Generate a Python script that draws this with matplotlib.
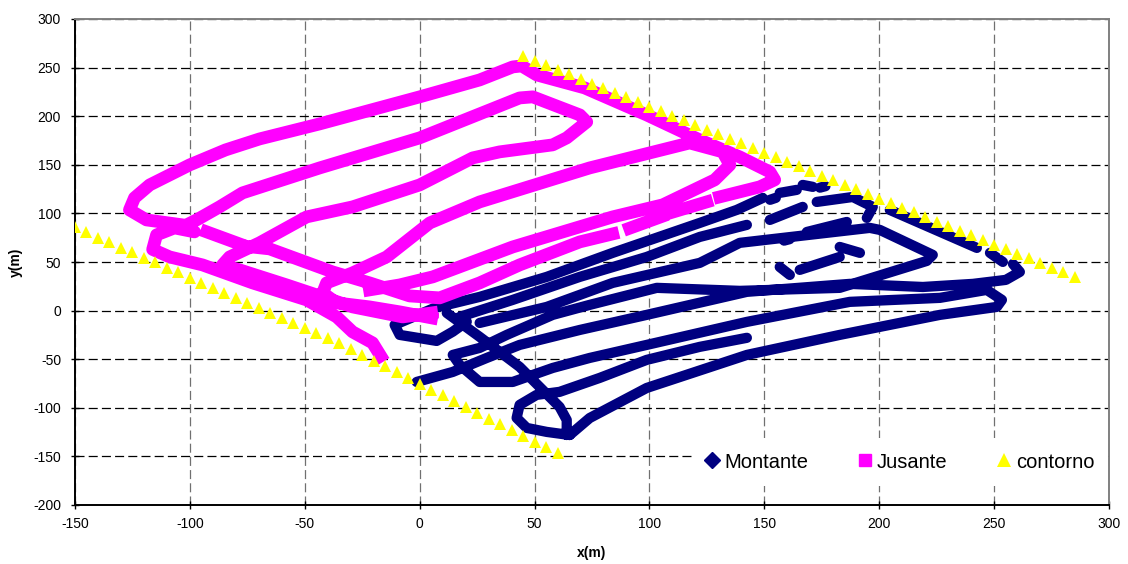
import numpy as np
import matplotlib
matplotlib.use("Agg")
import matplotlib.pyplot as plt
from matplotlib.lines import Line2D

plt.rcParams['font.family'] = ['Liberation Sans', 'DejaVu Sans']
plt.rcParams['lines.scale_dashes'] = False
plt.rcParams['axes.unicode_minus'] = False

nan = np.nan

# Montante track (segments separated by nan)
montante_x = [20.5, 14.4, 7.4, -8.7, -10.9, 6.5, 26.1, 55.3, 84.0, 121.9, 138.0, 149.3, nan,
              152.5, 155.0, nan, 156.7, 164.1, nan, 166.7, 171.1, nan, 174.2, 176.6, nan,
              172.8, 188.5, 197.2, 194.6, nan,
              17.4, 40.5, 69.7, 98.8, 121.9, 142.4, nan,
              152.4, 166.7, nan, 168.5, 185.9, nan, 158.6, 161.0, nan, 165.4, 182.8, nan,
              182.8, 191.6, nan, 156.7, 161.1, nan,
              26.1, 55.3, 84.0, 121.9, 139.3, 195.9, 200.3, 223.3, 220.7, 182.8, 139.3, 103.2,
              74.0, 57.9, 37.9, 26.1, 14.4, 17.4, 26.1, 40.5, 57.9, 74.0, 98.8, 142.4, 187.2,
              226.4, 246.8, 253.4, 251.2, 226.4, 182.8, 142.4, 98.8, 74.0, 65.3, nan,
              -1.3, 14.4, 29.2, 43.5, 69.7, 98.8, 142.4, 187.2, 219.0, 240.8, 255.1, 261.2, 258.2, nan,
              253.8, 248.2, nan, 242.5, 204.6, nan,
              11.8, 26.1, 43.5, 52.2, 60.9, 64.0, 64.0, nan,
              65.3, 55.3, 46.6, 42.2, 43.5, 50.9, 60.9, 78.4, 98.8, 121.9, 142.4]
montante_y = [-11.4, -21.7, -31.2, -25.0, -14.7, 2.8, 14.1, 34.7, 59.4, 90.2, 103.6, 115.9, nan,
              114.0, 116.0, nan, 121.1, 124.2, nan, 129.3, 127.3, nan, 126.5, 128.0, nan,
              111.8, 116.9, 106.7, 95.4, nan,
              -6.5, 11.0, 34.7, 55.2, 75.8, 88.2, nan,
              93.3, 106.7, nan, 80.9, 91.2, nan, 72.0, 73.5, nan, 41.9, 55.2, nan,
              65.5, 59.4, nan, 44.9, 36.7, nan,
              -12.7, 3.8, 28.5, 49.1, 69.7, 85.1, 83.0, 57.3, 51.1, 23.4, 20.3, 23.4,
              5.9, -4.4, -25.0, -38.4, -45.6, -55.9, -73.4, -73.4, -59.0, -48.7, -35.3, -11.6, 9.0,
              13.1, 21.3, 11.0, 3.8, -4.4, -25.0, -45.6, -79.6, -110.5, -128.0, nan,
              -73.4, -63.1, -48.7, -35.3, -19.9, -4.4, 19.3, 27.5, 24.3, 27.5, 31.6, 39.8, 48.0, nan,
              50.1, 59.4, nan, 64.5, 103.6, nan,
              -2.4, -27.0, -57.9, -78.5, -99.1, -112.5, -128.0, nan,
              -128.0, -124.8, -120.7, -110.4, -97.0, -86.7, -83.6, -69.2, -50.7, -37.3, -28.0]

# Jusante track
jusante_x = [-17.0, -20.5, -29.2, -36.1, -49.2, -72.7, -94.5, -108.8, -116.2, -114.5, -106.7, -98.0,
             -103.2, -118.9, -126.3, -124.1, -117.5, -100.1, -84.5, -69.7, -43.5, 0.0, 26.1, 40.5,
             44.4, 50.9, 71.8, 98.8, 121.9, 139.3, 152.4, 154.5, 148.0, 130.6, nan,
             124.9, 107.5, nan, 105.2, 91.4, nan,
             84.0, 69.7, 43.5, 26.1, 8.7, -4.4, -21.8, -37.9, -65.3, -77.5, nan,
             -78.4, -92.7, nan,
             -101.4, -97.1, -87.1, -77.1, -43.5, 0.0, 43.5, 49.2, 69.7, 72.7, 64.0, 57.9, 34.8,
             23.1, 0.0, -29.2, -49.2, -69.7, -82.7, -85.8, -78.4, -57.9, -29.2, -7.4, 5.2, nan,
             5.2, -8.7, -21.8, -36.1, -42.2, -40.5, -29.2, -14.4, 4.4, 26.1, 74.0, 117.5, 131.9,
             135.0, 128.4, 105.8, 84.0, 40.5, 5.7, -8.7, -21.8]
jusante_y = [-46.6, -33.2, -21.9, -6.5, 11.0, 28.5, 47.0, 55.2, 62.9, 77.9, 85.1, 81.0,
             88.2, 93.3, 103.6, 116.0, 129.3, 149.9, 165.3, 176.6, 192.1, 219.9, 237.3, 250.7,
             251.7, 242.5, 229.1, 201.3, 175.6, 158.1, 142.7, 134.5, 127.3, 117.0, nan,
             111.8, 99.5, nan, 96.7, 84.8, nan,
             78.9, 70.7, 47.0, 28.5, 13.1, 15.1, 28.5, 39.8, 63.5, 66.6, nan,
             68.6, 81.0, nan,
             88.2, 93.3, 106.7, 121.1, 146.8, 177.7, 218.8, 219.9, 201.3, 194.1, 177.7, 170.5, 163.3,
             157.1, 129.3, 106.7, 96.4, 69.7, 55.2, 47.0, 41.9, 26.4, 3.8, -6.5, -2.4, nan,
             -7.5, -1.3, 3.8, 7.9, 18.2, 28.5, 38.8, 55.2, 90.2, 111.8, 146.8, 172.5, 163.3,
             149.9, 134.5, 108.8, 96.4, 65.5, 34.7, 26.4, 21.3]

# contorno (boundary points)
contorno_x = [-150, -145, -140, -135, -130, -125, -120, -115, -110, -105, -100, -95, -90, -85,
              -80, -75, -70, -65, -60, -55, -50, -45, -40, -35, -30, -25, -20, -15, -10, -5,
              0, 5, 10, 15, 20, 25, 30, 35, 40, 45, 50, 55, 60,
              45, 50, 55, 60, 65, 70, 75, 80, 85, 90, 95, 100, 105, 110, 115, 120, 125, 130,
              135, 140, 145, 150, 155, 160, 165, 170, 175, 180, 185, 190, 195, 200, 205, 210,
              215, 220, 225, 230, 235, 240, 245, 250, 255, 260, 265, 270, 275, 280, 285]
contorno_y = [85.5, 80.4, 75.2, 70.1, 64.9, 59.8, 54.6, 49.5, 44.3, 39.2, 34.0, 28.9, 23.7, 18.6,
              13.4, 8.3, 3.1, -2.0, -7.2, -12.3, -17.5, -22.6, -27.8, -33.7, -39.7, -45.6, -51.6,
              -57.5, -63.5, -69.4, -75.4, -81.3, -87.3, -93.2, -99.2, -105.1, -111.1, -117.0,
              -123.0, -128.9, -134.9, -140.8, -146.8,
              262.0, 257.3, 252.5, 247.8, 243.1, 238.3, 233.6, 228.8, 224.1, 219.4, 214.6, 209.9,
              205.2, 200.4, 195.7, 191.0, 186.2, 181.5, 176.8, 172.0, 167.3, 162.6, 157.8, 153.1,
              148.4, 143.6, 138.9, 134.2, 129.4, 124.7, 120.0, 115.2, 110.5, 105.8, 101.0, 96.3,
              91.6, 86.8, 82.1, 77.4, 72.6, 67.9, 63.2, 58.4, 53.7, 49.0, 44.2, 39.5, 34.8]

navy = '#000080'
pink = '#FF00FF'
yellow = '#FFFF00'

fig = plt.figure(figsize=(11.28, 5.64), dpi=100)
ax = fig.add_axes([75 / 1128, 1 - 505 / 564, 1034 / 1128, 486 / 564])

# dense marker tracks drawn as thick strokes
ax.plot(montante_x, montante_y, color=navy, lw=7.4,
        solid_joinstyle='round', solid_capstyle='round', zorder=3)
ax.plot(jusante_x, jusante_y, color=pink, lw=9.2,
        solid_joinstyle='round', solid_capstyle='projecting', zorder=4)
ax.plot(contorno_x, contorno_y, ls='none', marker='^', ms=8.5, color=yellow,
        markeredgewidth=0, zorder=5)

ax.set_xlim(-150, 300)
ax.set_ylim(-200, 300)
ax.set_xticks(range(-150, 301, 50))
ax.set_yticks(range(-200, 301, 50))
ax.tick_params(direction='inout', length=6, width=1, labelsize=10, pad=6)
ax.tick_params(axis='y', pad=7)

ax.grid(True, axis='y', color='black', lw=0.9, dashes=(6.5, 3))
ax.grid(True, axis='x', color='#707070', lw=0.9, dashes=(6.5, 3))
ax.set_axisbelow(True)

for s in ['left', 'bottom']:
    ax.spines[s].set_color('black')
    ax.spines[s].set_linewidth(1.4)
for s in ['top', 'right']:
    ax.spines[s].set_color('#808080')
    ax.spines[s].set_linewidth(1.4)

ax.set_xlabel('x(m)', fontsize=10, fontweight='bold')
ax.set_ylabel('y(m)', fontsize=10, fontweight='bold')
ax.xaxis.set_label_coords(0.5, -0.085)
ax.yaxis.set_label_coords(-0.05, 0.5)

handles = [Line2D([], [], ls='none', marker='D', ms=8, color=navy),
           Line2D([], [], ls='none', marker='s', ms=9, color=pink),
           Line2D([], [], ls='none', marker='^', ms=10, color=yellow, markeredgewidth=0)]
leg = fig.legend(handles, ['Montante', 'Jusante', 'contorno'], ncol=3,
                 loc='center left', bbox_to_anchor=(692 / 1128, 1 - 462 / 564),
                 fontsize=14.5, frameon=True, fancybox=False, edgecolor='none',
                 facecolor='white', framealpha=1, borderpad=0.7, borderaxespad=0,
                 handlelength=0.6, handletextpad=0.3, columnspacing=2.5)
leg.set_zorder(10)

fig.savefig('out.png', dpi=100)
